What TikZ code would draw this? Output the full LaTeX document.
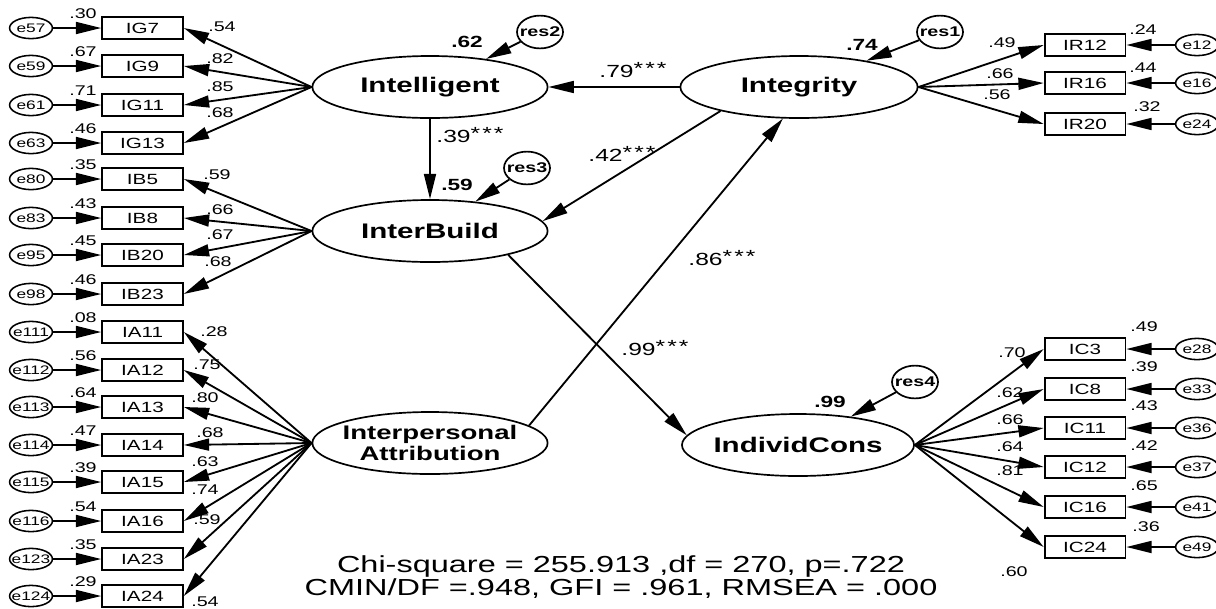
\documentclass[tikz,border=0pt]{standalone}
\usepackage{fontspec}
\setmainfont{Liberation Sans}[FakeStretch=1.4]
\usetikzlibrary{positioning,calc,arrows.meta,shapes.geometric}

\newcommand{\sig}[1]{#1\raisebox{.35ex}{*\hspace{1.5pt}*\hspace{1.5pt}*}}

\begin{document}
\begin{tikzpicture}[
    x=0.025cm, y=-0.025cm,
    latent/.style={ellipse, draw, line width=1.2pt, minimum width=5.88cm, minimum height=1.55cm, inner sep=0pt, inner xsep=-6pt, align=center, font=\fontsize{15}{16}\selectfont\bfseries},
    item/.style={rectangle, draw, line width=1.3pt, minimum width=2.02cm, minimum height=0.55cm, inner sep=0pt, font=\fontsize{10.5}{12}\selectfont},
    err/.style={ellipse, draw, line width=1.1pt, minimum width=1.07cm, minimum height=0.53cm, inner sep=0pt, inner xsep=-6pt, font=\fontsize{8.8}{10}\selectfont},
    res/.style={ellipse, draw, line width=1.2pt, minimum width=1.15cm, minimum height=0.82cm, inner sep=0pt, inner xsep=-5pt, font=\fontsize{10}{11}\selectfont\bfseries},
    num/.style={inner sep=0pt, font=\fontsize{10}{11}\selectfont},
    rsq/.style={inner sep=0pt, font=\fontsize{11.5}{12}\selectfont\bfseries},
    coef/.style={inner sep=0pt, font=\fontsize{12.5}{14}\selectfont},
    arrow/.style={-{Triangle[length=18pt, width=8.5pt]}, line width=1.3pt}
]
\useasboundingbox (0,0) rectangle (1216,608);

% Latent variables
\node[latent] (intel) at (430,87) {Intelligent};
\node[latent] (ib) at (430,231) {InterBuild};
\node[latent, font=\fontsize{14}{15}\selectfont\bfseries] (ia) at (430,443) {Interpersonal\\Attribution};
\node[latent, minimum width=5.93cm] (integ) at (799,87) {Integrity};
\node[latent, minimum width=5.8cm] (ic) at (798,445) {IndividCons};

% Residuals
\node[res] (res1) at (940,32) {res1};
\node[res] (res2) at (540,32) {res2};
\node[res] (res3) at (527,168) {res3};
\node[res] (res4) at (915,382) {res4};
\draw[arrow] (res1) -- (integ);
\draw[arrow] (res2) -- (intel);
\draw[arrow] (res3) -- (ib);
\draw[arrow] (res4) -- (ic);

\node[rsq] (r2integ) at (862,45) {.74};
\node[rsq] (r2intel) at (467,42) {.62};
\node[rsq] (r2ib) at (457,185) {.59};
\node[rsq] (r2ic) at (830,402) {.99};

% Structural paths
\draw[arrow] (integ.west) -- (intel.east);
\draw[arrow] (intel.south) -- (ib.north);
\draw[arrow] (integ.197) -- (ib.5);
\draw[arrow] (ia.10) -- (integ.243);
\draw[arrow] (ib.343) -- (ic.175);

\node[coef] (c79) at (633,70) {\sig{.79}};
\node[coef] (c39) at (470,135) {\sig{.39}};
\node[coef] (c42) at (622,154) {\sig{.42}};
\node[coef] (c86) at (722,258) {\sig{.86}};
\node[coef] (c99) at (655,348) {\sig{.99}};

% Left indicators
\foreach \lv/\ind/\yy/\en/\vr/\lx/\ly/\ld in {
    intel/IG7/28/e57/.30/222/27/.54, intel/IG9/66/e59/.67/220/59/.82,
    intel/IG11/105/e61/.71/220/87/.85, intel/IG13/143/e63/.46/220/113/.68,
    ib/IB5/179/e80/.35/217/175/.59, ib/IB8/218/e83/.43/220/210/.66,
    ib/IB20/255/e95/.45/220/235/.67, ib/IB23/294/e98/.46/218/262/.68,
    ia/IA11/332/e111/.08/214/332/.28, ia/IA12/370/e112/.56/207/365/.75,
    ia/IA13/407/e113/.64/205/398/.80, ia/IA14/445/e114/.47/210/433/.68,
    ia/IA15/482/e115/.39/205/462/.63, ia/IA16/521/e116/.54/205/490/.74,
    ia/IA23/559/e123/.35/207/520/.59, ia/IA24/596/e124/.29/205/602/.54} {
    \node[item] (\ind) at (142.5,\yy) {\ind};
    \node[err] (\en) at (31,\yy) {\en};
    \node[num] (v\ind) at (83,{\yy-14}) {\vr};
    \node[num] (l\ind) at (\lx,\ly) {\ld};
    \draw[arrow] (\en) -- (\ind);
    \draw[arrow] (\lv.west) -- (\ind.east);
}

% Right indicators
\foreach \lv/\ind/\yy/\en/\vr/\vx/\vy/\ld/\lx/\ly in {
    integ/IR12/45/e12/.24/1143/30/.49/1002/43,
    integ/IR16/83/e16/.44/1143/68/.66/1000/74,
    integ/IR20/124/e24/.32/1147/107/.56/997/95,
    ic/IC3/349/e28/.49/1144/327/.70/1012/353,
    ic/IC8/389/e33/.39/1144/367/.62/1010/393,
    ic/IC11/428/e36/.43/1144/406/.66/1010/420,
    ic/IC12/467/e37/.42/1144/446/.64/1010/447,
    ic/IC16/507/e41/.65/1144/486/.81/1010/471,
    ic/IC24/547/e49/.36/1146/527/.60/1014/572} {
    \node[item] (\ind) at (1085,\yy) {\ind};
    \node[err] (\en) at (1197,\yy) {\en};
    \node[num] (v\ind) at (\vx,\vy) {\vr};
    \node[num] (l\ind) at (\lx,\ly) {\ld};
    \draw[arrow] (\en) -- (\ind);
    \draw[arrow] (\lv.east) -- (\ind.west);
}

% Fit indices
\node[font=\fontsize{16.5}{16.5}\selectfont, align=center] (fit) at (621,577) {Chi-square = 255.913 ,df = 270, p=.722\\CMIN/DF =.948, GFI = .961, RMSEA = .000};

\end{tikzpicture}
\end{document}
